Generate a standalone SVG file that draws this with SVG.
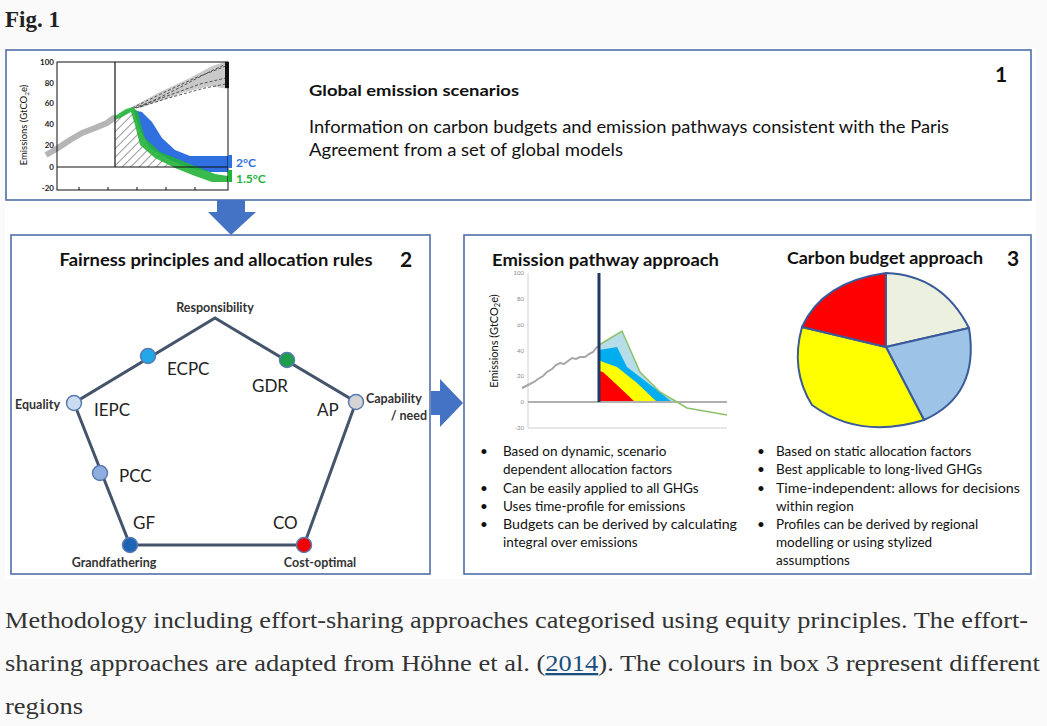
<svg xmlns="http://www.w3.org/2000/svg" width="1047" height="726" viewBox="0 0 1047 726">
<style>
.box{fill:#fff;stroke:#4f6fa8;stroke-width:1.6}
.t{font-family:Lato,"Open Sans",sans-serif;fill:#111}
.b{font-weight:bold}
.cap{font-family:"Liberation Serif","DejaVu Serif",serif;fill:#333;font-size:23px}
.tk{font-family:Lato,sans-serif;font-size:8px;font-weight:bold;fill:#222}
.tk2{font-family:Lato,sans-serif;font-size:6px;fill:#888}
.edge{stroke:#44546a;stroke-width:3;fill:none}
.dot{stroke:#5b7bb0;stroke-width:1.5}
.lbl{font-family:Lato,sans-serif;font-size:17px;fill:#222}
.sl{font-family:Lato,sans-serif;font-size:12.5px;fill:#333;font-weight:bold}
.bul{font-family:Lato,sans-serif;font-size:13.5px;fill:#111}
.arr{fill:#4472c4}
</style>
<defs>
<pattern id="hatch" patternUnits="userSpaceOnUse" width="6" height="6" patternTransform="rotate(45)">
<rect width="6" height="6" fill="#fff"/>
<line x1="0" y1="0" x2="0" y2="6" stroke="#555" stroke-width="1.2"/>
</pattern>
</defs>
<rect width="1047" height="726" fill="#fafafa"/>
<text x="5" y="27" font-family="Liberation Serif,serif" font-weight="bold" font-size="23" fill="#222">Fig. 1</text>
<rect x="5" y="48" width="1031" height="531" fill="#fff"/>

<g id="box1">
<rect class="box" x="6" y="50" width="1025" height="150"/>
<g id="chart1">
<polygon points="130,108 160,92 190,78 212,66 228,61 228,89 210,86 185,92 160,101 140,108" fill="#c9c9c9"/>
<path d="M132,108 L165,92 L195,78 L226,66 M134,108 L170,95 L200,84 L226,78 M136,108 L172,97 L205,88 L226,84 M140,107 L175,90 L205,74 L226,64" stroke="#333" stroke-width="0.8" stroke-dasharray="3,2" fill="none"/>
<rect x="225" y="62" width="4" height="26" fill="#111"/>
<polygon points="115,117 133,110 145,140 160,155 170,167 115,167" fill="url(#hatch)"/>
<polygon points="133,110 142,112 152,122 162,138 175,150 190,156 228,156 228,172 210,172 190,168 170,160 150,148 140,130 134,112" fill="#2f6fe0"/>
<polygon points="115,116 126,109 133,107 138,112 141,125 145,138 160,152 180,160 200,168 215,174 228,176 228,182 212,182 195,176 175,168 155,158 140,145 135,125 131,112 120,118 115,120" fill="#22b33a" fill-opacity="0.9"/>
<polyline points="46,155 58,148 70,140 82,133 95,128 107,123 115,117" fill="none" stroke="#b5b5b5" stroke-width="6" stroke-linejoin="round"/>
<rect x="57" y="62" width="171" height="128" fill="none" stroke="#111" stroke-width="1"/>
<line x1="57" y1="167" x2="228" y2="167" stroke="#111" stroke-width="1"/>
<line x1="115" y1="62" x2="115" y2="167" stroke="#111" stroke-width="1.2"/>
<rect x="228" y="155" width="4" height="13" fill="#2f6fe0"/>
<rect x="228" y="170" width="4" height="12" fill="#22b33a"/>
<g stroke="#111" stroke-width="1"><line x1="79" y1="187" x2="79" y2="190"/><line x1="108" y1="187" x2="108" y2="190"/><line x1="137" y1="187" x2="137" y2="190"/><line x1="166" y1="187" x2="166" y2="190"/><line x1="195" y1="187" x2="195" y2="190"/></g>
<g class="tk" text-anchor="end">
<text x="54" y="65">100</text><text x="54" y="86">80</text><text x="54" y="106">60</text><text x="54" y="127">40</text><text x="54" y="148">20</text><text x="54" y="170">0</text><text x="54" y="191">-20</text>
</g>
<text class="t" transform="translate(27,125) rotate(-90)" text-anchor="middle" font-size="9.5">Emissions (GtCO<tspan font-size="6.5" dy="2">2</tspan><tspan dy="-2">e)</tspan></text>
<text x="236" y="167" font-family="Lato,sans-serif" font-weight="bold" font-size="12" fill="#2f6fe0">2°C</text>
<text x="236" y="183" font-family="Lato,sans-serif" font-weight="bold" font-size="12" fill="#22b33a">1.5°C</text>
</g>
<text class="t b" x="309" y="96" font-size="16" textLength="210" lengthAdjust="spacingAndGlyphs">Global emission scenarios</text>
<text class="t" x="309" y="133" font-size="17" textLength="640" lengthAdjust="spacingAndGlyphs">Information on carbon budgets and emission pathways consistent with the Paris</text>
<text class="t" x="309" y="156" font-size="17" textLength="314" lengthAdjust="spacingAndGlyphs">Agreement from a set of global models</text>
<text class="t b" x="995" y="82" font-size="21">1</text>
</g>

<g id="box2">
<rect class="box" x="11" y="235" width="419" height="339"/>
<text class="t b" x="216" y="266" font-size="16.5" text-anchor="middle" textLength="313" lengthAdjust="spacingAndGlyphs">Fairness principles and allocation rules</text>
<text class="t b" x="400" y="267" font-size="21">2</text>
</g>

<g id="box3">
<rect class="box" x="464" y="235" width="567" height="339"/>
<text class="t b" x="492" y="266" font-size="17.5" textLength="227" lengthAdjust="spacingAndGlyphs">Emission pathway approach</text>
<text class="t b" x="787" y="264" font-size="17.5" textLength="196" lengthAdjust="spacingAndGlyphs">Carbon budget approach</text>
<text class="t b" x="1007" y="266" font-size="21">3</text>
<g id="chart2">
<line x1="528" y1="273" x2="528" y2="428" stroke="#d0d0d0" stroke-width="1"/>
<line x1="528" y1="428" x2="727" y2="428" stroke="#d0d0d0" stroke-width="1"/>
<g class="tk2" text-anchor="end">
<text x="524" y="275">100</text><text x="524" y="301">80</text><text x="524" y="327">60</text><text x="524" y="353">40</text><text x="524" y="378">20</text><text x="524" y="404">0</text><text x="524" y="430">-20</text>
</g>
<polygon points="599,345 622,331 640,372 660,392 677,402 599,402" fill="#b7dde8"/>
<polygon points="599,350 617,347 627,367 657,390 672,402 599,402" fill="#00aef0"/>
<polygon points="599,360 603,362 617,367 637,383 657,402 599,402" fill="#ffff00"/>
<polygon points="599,371 603,372 617,385 635,402 599,402" fill="#ff0000"/>
<line x1="528" y1="402" x2="727" y2="402" stroke="#b0b0b0" stroke-width="2"/>
<polyline points="599,345 622,331 640,372 660,392 677,402 687,408 727,415" fill="none" stroke="#8cc26a" stroke-width="1.5"/>
<polyline points="522,388 528,385 534,382 538,379 543,376 547,372 552,369 556,365 560,363 564,364 568,361 572,358 576,359 580,357 585,357 589,354 593,352 597,347 599,346" fill="none" stroke="#a6a6a6" stroke-width="2"/>
<line x1="599" y1="273" x2="599" y2="402" stroke="#1f3864" stroke-width="3"/>
<text class="t" transform="translate(498,341) rotate(-90)" text-anchor="middle" font-size="11">Emissions (GtCO<tspan font-size="7.5" dy="2">2</tspan><tspan dy="-2">e)</tspan></text>
</g>
<g id="pie" stroke="#3a5a9a" stroke-width="2" stroke-linejoin="round">
<path d="M886,347 L886,273 Q942,275 969,328 Z" fill="#ebf1de"/>
<path d="M886,347 L969,328 Q980,395 924,420 Z" fill="#9dc3e6"/>
<path d="M886,347 L924,420 Q860,440 812,405 Q790,370 802,327 Z" fill="#ffff00"/>
<path d="M886,347 L802,327 Q822,282 886,273 Z" fill="#ff0000"/>
</g>
<g class="bul">
<text x="480" y="456">•</text><text x="503" y="456">Based on dynamic, scenario</text>
<text x="503" y="474">dependent allocation factors</text>
<text x="480" y="493">•</text><text x="503" y="493">Can be easily applied to all GHGs</text>
<text x="480" y="511">•</text><text x="503" y="511">Uses time-profile for emissions</text>
<text x="480" y="529">•</text><text x="503" y="529" textLength="234" lengthAdjust="spacingAndGlyphs">Budgets can be derived by calculating</text>
<text x="503" y="547">integral over emissions</text>
<text x="757" y="456">•</text><text x="776" y="456">Based on static allocation factors</text>
<text x="757" y="474">•</text><text x="776" y="474">Best applicable to long-lived GHGs</text>
<text x="757" y="493">•</text><text x="776" y="493" textLength="244" lengthAdjust="spacingAndGlyphs">Time-independent: allows for decisions</text>
<text x="776" y="511">within region</text>
<text x="757" y="529">•</text><text x="776" y="529">Profiles can be derived by regional</text>
<text x="776" y="547">modelling or using stylized</text>
<text x="776" y="565">assumptions</text>
</g>
</g>

<g id="connectors">
<polygon class="arr" points="217,200 245,200 245,212 256,212 231,235 208,212 217,212"/>
<polygon class="arr" points="431,391 440,391 440,379 463,403 440,427 440,415 431,415"/>
<polygon class="edge" points="215,318 356,402 304,545 130,545 74,403"/>
</g>

<g id="node-responsibility"><text class="sl" x="215" y="312" text-anchor="middle">Responsibility</text></g>
<g id="node-equality"><circle class="dot" cx="74" cy="403" r="7.5" fill="#c9dcf2"/><text class="sl" x="15" y="409">Equality</text></g>
<g id="node-capability"><circle class="dot" cx="356" cy="402" r="7.5" fill="#d4d4d4"/><text class="sl" x="366" y="403">Capability</text><text class="sl" x="427" y="420" text-anchor="end">/ need</text></g>
<g id="node-grandfathering"><circle class="dot" cx="130" cy="545" r="7.5" fill="#1f63b5"/><text class="sl" x="114" y="567" text-anchor="middle">Grandfathering</text></g>
<g id="node-costoptimal"><circle class="dot" cx="304" cy="545" r="7.5" fill="#f00000"/><text class="sl" x="320" y="567" text-anchor="middle">Cost-optimal</text></g>
<g id="node-ecpc"><circle class="dot" cx="148" cy="356" r="7.5" fill="#22a7e8"/><text class="lbl" x="167" y="375">ECPC</text></g>
<g id="node-gdr"><circle class="dot" cx="287" cy="360" r="7.5" fill="#1e9e4a"/><text class="lbl" x="252" y="392">GDR</text></g>
<g id="node-iepc"><text class="lbl" x="94" y="416">IEPC</text></g>
<g id="node-ap"><text class="lbl" x="317" y="416">AP</text></g>
<g id="node-pcc"><circle class="dot" cx="100" cy="473" r="7.5" fill="#8eaee0"/><text class="lbl" x="119" y="482">PCC</text></g>
<g id="node-gf"><text class="lbl" x="133" y="529">GF</text></g>
<g id="node-co"><text class="lbl" x="273" y="529">CO</text></g>

<g id="caption">
<text class="cap" x="5" y="628" textLength="1023" lengthAdjust="spacingAndGlyphs">Methodology including effort-sharing approaches categorised using equity principles. The effort-</text>
<text class="cap" x="5" y="671" textLength="1035" lengthAdjust="spacingAndGlyphs">sharing approaches are adapted from Höhne et al. (<tspan fill="#1a4f7f" text-decoration="underline">2014</tspan>). The colours in box 3 represent different</text>
<text class="cap" x="5" y="714" textLength="78" lengthAdjust="spacingAndGlyphs">regions</text>
</g>
</svg>
